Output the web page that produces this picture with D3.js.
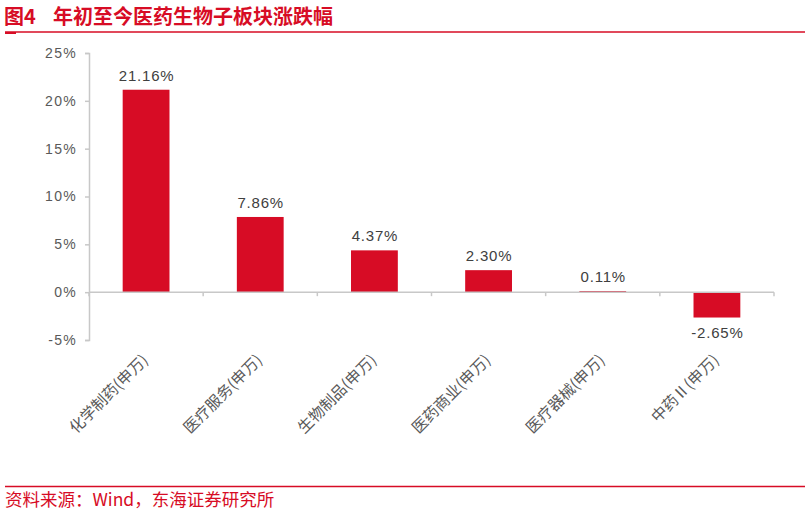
<!DOCTYPE html>
<html>
<head>
<meta charset="utf-8">
<script src="https://cdn.jsdelivr.net/npm/d3@7"></script>
<style>
  body { margin: 0; background: #fff; }
  svg { display: block; font-family: "Liberation Sans", "Noto Sans CJK SC", sans-serif; }
</style>
</head>
<body>
<div id="chart"></div>
<script>
const categories = ["化学制药(申万)", "医疗服务(申万)", "生物制品(申万)", "医药商业(申万)", "医疗器械(申万)", "中药Ⅱ(申万)"];
const values = [21.16, 7.86, 4.37, 2.30, 0.11, -2.65];
const yTicks = [-5, 0, 5, 10, 15, 20, 25];

const W = 805, H = 515;
const red = "#d70c25";
const cjk = "'Noto Sans CJK SC', sans-serif";

const svg = d3.select("#chart").append("svg")
  .attr("width", W).attr("height", H);

// title + rules
const title = svg.append("text")
  .attr("y", 24)
  .style("font-family", cjk)
  .style("font-size", "20px").style("font-weight", "bold")
  .attr("fill", red);
title.append("tspan").attr("x", 4).text("图4");
title.append("tspan").attr("x", 53).text("年初至今医药生物子板块涨跌幅");

svg.append("line").attr("x1", 5).attr("x2", W).attr("y1", 32).attr("y2", 32)
  .attr("stroke", red).attr("stroke-width", 1.3);
svg.append("line").attr("x1", 5).attr("x2", 16).attr("y1", 33).attr("y2", 33)
  .attr("stroke", red).attr("stroke-width", 2);
svg.append("line").attr("x1", 5).attr("x2", W).attr("y1", 486.5).attr("y2", 486.5)
  .attr("stroke", red).attr("stroke-width", 1.7);

svg.append("text")
  .attr("x", 5).attr("y", 506)
  .style("font-family", cjk)
  .style("font-size", "17.5px")
  .attr("fill", red)
  .text("资料来源：Wind，东海证券研究所");

// scales
const x = d3.scaleBand().domain(categories).range([89, 774]).paddingInner(0.59).paddingOuter(0.295);
const y = d3.scaleLinear().domain([-5, 25]).range([340, 53]);

const axisColor = "#c8c8c8";

// y axis
const yAxis = svg.append("g").attr("transform", "translate(89,0)")
  .call(d3.axisLeft(y).tickValues(yTicks).tickSize(4).tickFormat(d => d + "%"));
yAxis.select(".domain").attr("stroke", axisColor).attr("stroke-width", 1.5);
yAxis.selectAll(".tick line").attr("stroke", axisColor).attr("stroke-width", 1.5);
yAxis.selectAll(".tick text")
  .attr("x", -12)
  .style("font-size", "14px").style("letter-spacing", "1.3px")
  .attr("fill", "#595959");

// bars
svg.selectAll("rect.bar").data(values).enter().append("rect")
  .attr("class", "bar")
  .attr("x", (d, i) => x(categories[i]))
  .attr("width", x.bandwidth())
  .attr("y", d => y(Math.max(d, 0)))
  .attr("height", d => Math.abs(y(d) - y(0)))
  .attr("fill", red);

// x axis at zero
const step = x.step();
const x0 = 89;
const gx = svg.append("g");
gx.append("line").attr("x1", 89).attr("x2", 774).attr("y1", y(0)).attr("y2", y(0))
  .attr("stroke", axisColor).attr("stroke-width", 1.5);
gx.selectAll("line.tk").data(d3.range(categories.length + 1)).enter().append("line")
  .attr("class", "tk")
  .attr("x1", i => x0 + i * step).attr("x2", i => x0 + i * step)
  .attr("y1", y(0)).attr("y2", y(0) + 4)
  .attr("stroke", axisColor).attr("stroke-width", 1.5);

// value labels
svg.selectAll("text.val").data(values).enter().append("text")
  .attr("class", "val")
  .attr("x", (d, i) => x(categories[i]) + x.bandwidth() / 2 + 0.5)
  .attr("y", d => d >= 0 ? y(d) - 9 : y(d) + 20)
  .attr("text-anchor", "middle")
  .style("font-size", "15px").style("letter-spacing", "0.8px")
  .attr("fill", "#404040")
  .text(d => d.toFixed(2) + "%");

// category labels
svg.selectAll("text.cat").data(categories).enter().append("text")
  .attr("class", "cat")
  .attr("transform", d => `translate(${x(d) + x.bandwidth() / 2 + 3},${361}) rotate(-45)`)
  .attr("text-anchor", "end")
  .style("font-family", cjk)
  .style("font-size", "15.5px").attr("fill", "#595959")
  .text(d => d);
</script>
</body>
</html>
